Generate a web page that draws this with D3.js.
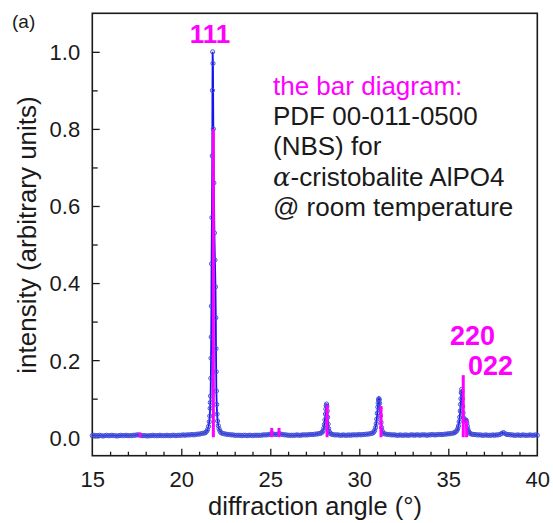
<!DOCTYPE html>
<html>
<head>
<meta charset="utf-8">
<script src="https://cdn.jsdelivr.net/npm/d3@7"></script>
<style>
  html, body { margin: 0; padding: 0; background: #fff; }
  svg { display: block; }
  text { font-family: "Liberation Sans", Arial, Helvetica, sans-serif; }
</style>
</head>
<body>
<svg id="chart" width="553" height="523"></svg>
<script>
// ---------------- data ----------------
const scanStep = 0.1;

// coarse background segments: start angle + intensities every 0.1°
const bg1Start = 15.0;
const bg1 = [0.004,0.005,0.004,0.004,0.005,0.004,0.003,0.004,0.005,0.004,
             0.004,0.005,0.004,0.004,0.003,0.004,0.005,0.004,0.004,0.005,
             0.004,0.004,0.004,0.005,0.005,0.006,0.006,0.005,0.004,0.004,
             0.004,0.003,0.004,0.004,0.005,0.004,0.004,0.004,0.005,0.004,
             0.004,0.004,0.005,0.004,0.004,0.005,0.005,0.004,0.005,0.005,
             0.005,0.006,0.005,0.006,0.006,0.006,0.007,0.006,0.007,0.008,
             0.008,0.009,0.010,0.011];
const bg2Start = 22.3;
const bg2 = [0.010,0.009,0.008,0.007,0.007,0.006,0.006,0.005,0.005,0.005,
             0.005,0.004,0.005,0.005,0.004,0.005,0.005,0.004,0.005,0.005,
             0.005,0.005,0.005,0.006,0.006,0.006,0.007,0.008,0.009,0.008,
             0.007,0.008,0.009,0.008,0.007,0.006,0.006,0.005,0.005,0.005,
             0.005,0.005,0.006,0.005,0.005,0.006,0.006,0.006,0.006,0.007,
             0.007,0.007,0.008,0.008,0.009,0.010];
const bg3Start = 28.5;
const bg3 = [0.007,0.006,0.006,0.006,0.005,0.005,0.006,0.005,0.005,0.006,
             0.005,0.006,0.006,0.006,0.006,0.007,0.006,0.007,0.007,0.008,
             0.008,0.009,0.010];
const bg4Start = 31.5;
const bg4 = [0.008,0.007,0.007,0.006,0.006,0.006,0.005,0.005,0.006,0.005,
             0.005,0.006,0.005,0.005,0.006,0.006,0.005,0.006,0.006,0.005,
             0.006,0.006,0.006,0.005,0.006,0.006,0.007,0.006,0.006,0.007,
             0.007,0.007,0.007,0.008,0.008,0.009,0.009,0.010,0.011];
const bg5Start = 36.4;
const bg5 = [0.007,0.007,0.006,0.006,0.006,0.005,0.005,0.006,0.005,0.005,
             0.005,0.006,0.005,0.006,0.006,0.007,0.010,0.012,0.009,0.007,
             0.007,0.006,0.006,0.005,0.005,0.006,0.005,0.005,0.006,0.005,
             0.005,0.005,0.006,0.005,0.005,0.006,0.005];

// finely sampled peak profiles
const peak111Angle = [21.36,21.42,21.48,21.53,21.57,21.60,21.62,21.63,21.645,21.66,21.67,21.68,21.69,21.70,21.72,21.74,21.75,21.76,
                      21.78,21.80,21.83,21.86,21.89,21.92,21.94,21.95,21.96,21.97,21.99,22.01,22.04,22.08,22.12,22.17,22.22];
const peak111Int   = [0.012,0.015,0.020,0.028,0.040,0.055,0.075,0.090,0.107,0.153,0.205,0.26,0.34,0.45,0.57,0.73,0.90,1.00,
                      0.97,0.80,0.66,0.53,0.46,0.39,0.31,0.23,0.17,0.12,0.085,0.060,0.042,0.030,0.022,0.016,0.012];
const peak28Angle = [27.86,27.92,27.97,28.01,28.04,28.07,28.10,28.12,28.14,28.16,28.18,28.20,28.22,28.25,28.28,28.32,28.37,28.43];
const peak28Int   = [0.011,0.013,0.017,0.024,0.033,0.045,0.060,0.073,0.082,0.086,0.080,0.068,0.052,0.034,0.022,0.014,0.010,0.008];
const peak31Angle = [30.76,30.82,30.87,30.91,30.95,30.98,31.01,31.04,31.06,31.08,31.10,31.12,31.14,31.16,31.19,31.22,31.25,31.29,31.34,31.40];
const peak31Int   = [0.011,0.014,0.018,0.025,0.035,0.047,0.062,0.078,0.089,0.097,0.100,0.097,0.088,0.075,0.056,0.038,0.025,0.016,0.011,0.009];
const peak36Angle = [35.36,35.42,35.48,35.53,35.57,35.61,35.64,35.67,35.69,35.71,35.73,35.75,35.77,35.79,35.81,35.83,35.86,35.89,35.92,
                     35.95,35.98,36.01,36.04,36.07,36.10,36.14,36.19,36.25,36.32];
const peak36Int   = [0.012,0.014,0.017,0.022,0.029,0.040,0.052,0.068,0.085,0.100,0.115,0.124,0.118,0.100,0.080,0.063,0.050,0.044,0.043,
                     0.044,0.045,0.043,0.037,0.029,0.021,0.015,0.011,0.009,0.008];

// reference bar diagram (PDF 00-011-0500)
const barAngle     = [17.68, 21.80, 25.08, 25.49, 28.19, 31.22, 35.84, 36.03];
const barIntensity = [0.012, 0.80, 0.024, 0.024, 0.083, 0.081, 0.161, 0.044];

// axis ticks
const xMajorTicks = [15, 20, 25, 30, 35, 40];
const xMinorTicks = [16,17,18,19,21,22,23,24,26,27,28,29,31,32,33,34,36,37,38,39];
const yMajorTicks = [0.0, 0.2, 0.4, 0.6, 0.8, 1.0];
const yMinorTicks = [0.1, 0.3, 0.5, 0.7, 0.9];

// texts
const hklLabels = [
  {text: "111", x: 210, y: 43, anchor: "middle", size: 26},
  {text: "220", x: 450, y: 345, anchor: "start", size: 27},
  {text: "022", x: 468, y: 375, anchor: "start", size: 27}
];
const noteLines = ["the bar diagram:", "PDF 00-011-0500", "(NBS) for", "-cristobalite AlPO4", "@ room temperature"];

// ---------------- assemble the scan ----------------
function seg(start, vals) { return vals.map((v, i) => [+(start + i * scanStep).toFixed(3), v]); }
function pairs(a, b) { return a.map((v, i) => [v, b[i]]); }
const scan = [].concat(
  seg(bg1Start, bg1), pairs(peak111Angle, peak111Int),
  seg(bg2Start, bg2), pairs(peak28Angle, peak28Int),
  seg(bg3Start, bg3), pairs(peak31Angle, peak31Int),
  seg(bg4Start, bg4), pairs(peak36Angle, peak36Int),
  seg(bg5Start, bg5)
).sort((a, b) => a[0] - b[0]);

// ---------------- drawing ----------------
const svg = d3.select("#chart");
const X0 = 92.3, X1 = 537.3, Y0 = 455.7, Y1 = 13.3;
const x = d3.scaleLinear().domain([15, 40]).range([X0, X1]);
const y = d3.scaleLinear().domain([-0.048, 1.10]).range([Y0, Y1]);

const ink = "#1a1a1a";
const magenta = "#ff00ff";

// axes (inward ticks)
const gx = svg.append("g").attr("transform", `translate(0,${Y0})`)
  .call(d3.axisBottom(x).tickValues(xMajorTicks).tickSizeInner(-7).tickSizeOuter(0).tickPadding(0).tickFormat(d3.format("d")));
gx.select(".domain").remove();
gx.selectAll("line").attr("stroke", ink).attr("stroke-width", 1.3);
gx.selectAll("text").attr("y", 31.5).attr("dy", null).attr("fill", ink)
  .style("font-size", "22px");
gx.selectAll(".tick").filter(d => d === 15 || d === 40).select("line").remove();

const gxm = svg.append("g").attr("transform", `translate(0,${Y0})`)
  .call(d3.axisBottom(x).tickValues(xMinorTicks).tickSizeInner(-4).tickSizeOuter(0).tickFormat(""));
gxm.select(".domain").remove();
gxm.selectAll("line").attr("stroke", ink).attr("stroke-width", 1.3);

const gy = svg.append("g").attr("transform", `translate(${X0 + 0.4},0)`)
  .call(d3.axisLeft(y).tickValues(yMajorTicks).tickSizeInner(-7).tickSizeOuter(0).tickPadding(12.5).tickFormat(d3.format(".1f")));
gy.select(".domain").remove();
gy.selectAll("line").attr("stroke", ink).attr("stroke-width", 1.3);
gy.selectAll("text").attr("fill", ink).attr("dy", "0.36em").style("font-size", "22px");

const gym = svg.append("g").attr("transform", `translate(${X0 + 0.4},0)`)
  .call(d3.axisLeft(y).tickValues(yMinorTicks).tickSizeInner(-5).tickSizeOuter(0).tickFormat(""));
gym.select(".domain").remove();
gym.selectAll("line").attr("stroke", ink).attr("stroke-width", 1.3);

// frame
svg.append("rect").attr("x", X0).attr("y", Y1).attr("width", X1 - X0).attr("height", Y0 - Y1)
  .attr("fill", "none").attr("stroke", ink).attr("stroke-width", 1.6);

// measured pattern: line + open circles
const line = d3.line().x(d => x(d[0])).y(d => y(d[1]));
svg.append("path").datum(scan).attr("d", line)
  .attr("fill", "none").attr("stroke", "#1414f0").attr("stroke-width", 1.8);
svg.append("g").selectAll("circle").data(scan).join("circle")
  .attr("cx", d => x(d[0])).attr("cy", d => y(d[1])).attr("r", 2.1)
  .attr("fill", "none").attr("stroke", "#4450d6").attr("stroke-width", 1);

// bar diagram
svg.append("g").selectAll("line").data(barAngle).join("line")
  .attr("x1", d => x(d)).attr("x2", d => x(d))
  .attr("y1", y(0)).attr("y2", (d, i) => y(barIntensity[i]))
  .attr("stroke", magenta).attr("stroke-width", 3);

// hkl labels
svg.append("g").selectAll("text").data(hklLabels).join("text")
  .attr("x", d => d.x).attr("y", d => d.y).attr("text-anchor", d => d.anchor)
  .attr("fill", magenta).attr("font-weight", "bold").style("font-size", d => d.size + "px")
  .text(d => d.text);

// note block
const noteBase = [95, 125, 155, 186, 216];
noteLines.forEach((t, i) => {
  const tx = svg.append("text").attr("x", 273).attr("y", noteBase[i])
    .attr("fill", i === 0 ? magenta : ink).style("font-size", "26px");
  if (i === 3) {
    tx.append("tspan").style("font-family", "'DejaVu Serif', 'Liberation Serif', serif")
      .style("font-style", "italic").text("α");
    tx.append("tspan").text(t);
  } else {
    tx.text(t);
  }
});

// axis titles
svg.append("text").attr("transform", "translate(36,235) rotate(-90)")
  .attr("text-anchor", "middle").attr("fill", ink).style("font-size", "26px")
  .text("intensity (arbitrary units)");
svg.append("text").attr("x", 315).attr("y", 515)
  .attr("text-anchor", "middle").attr("fill", ink).style("font-size", "25.5px")
  .text("diffraction angle (°)");

// panel letter
svg.append("text").attr("x", 12).attr("y", 28).attr("fill", ink).style("font-size", "19px").text("(a)");
</script>
</body>
</html>
